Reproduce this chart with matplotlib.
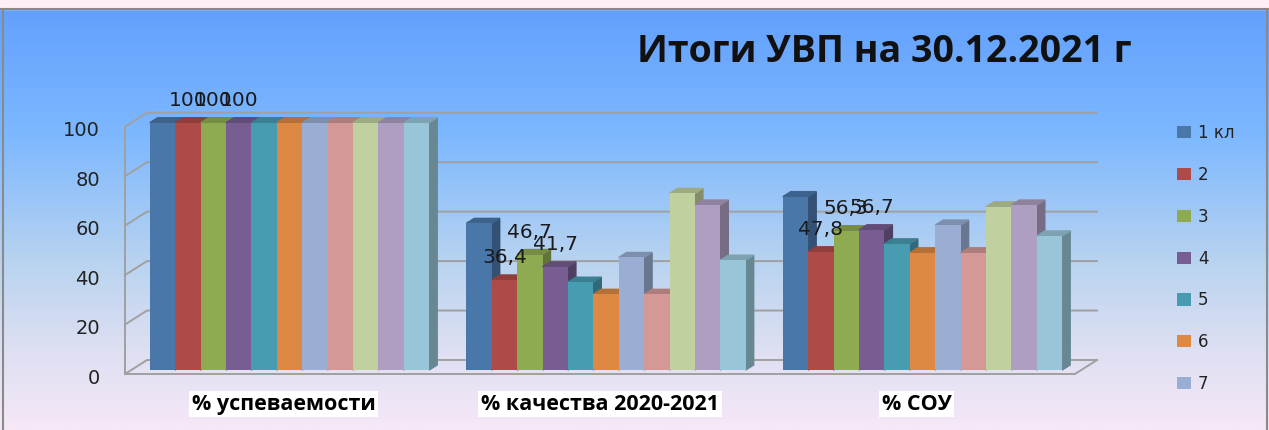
import matplotlib.pyplot as plt
import numpy as np
from matplotlib.colors import LinearSegmentedColormap, to_rgb
from matplotlib.patches import Polygon, Rectangle
from matplotlib.transforms import ScaledTranslation

title = "Итоги УВП на 30.12.2021 г"
categories = ["% успеваемости", "% качества 2020-2021", "% СОУ"]
series = ["1 кл", "2", "3", "4", "5", "6", "7", "8", "9", "10", "11"]
# one list per category, one value per class
uspev = [100, 100, 100, 100, 100, 100, 100, 100, 100, 100, 100]
kachestvo = [59.3, 36.4, 46.7, 41.7, 35.5, 30.6, 45.5, 30.6, 71.4, 66.7, 44.4]
sou = [70.1, 47.8, 56.3, 56.7, 51.0, 47.4, 58.6, 47.4, 66.0, 66.7, 54.2]
labelled = ["2", "3", "4"]   # series that carry value labels
yticks = [0, 20, 40, 60, 80, 100]

colors = ["#4a77aa", "#ae4b48", "#8fab52", "#775d92", "#479cb2", "#dd8943",
          "#9aaed3", "#d49896", "#c0d09e", "#ae9fc2", "#98c6d8"]

W, H = 1269, 430
fig = plt.figure(figsize=(W / 100, H / 100), dpi=100)

# background
bg = fig.add_axes([0, 0, 1, 1], zorder=-10)
bg.set_xlim(0, W)
bg.set_ylim(H, 0)
bg.axis("off")
cmap = LinearSegmentedColormap.from_list(
    "bg", [(0.0, "#62a0fd"), (0.3, "#7db8ff"), (0.6, "#b8d3f0"),
           (0.8, "#dcdff2"), (1.0, "#f6e8f7")])
bg.imshow(np.linspace(0, 1, 256).reshape(-1, 1), cmap=cmap, aspect="auto",
          extent=(0, W, H, 9), interpolation="bilinear")
bg.add_patch(Rectangle((0, 0), W, 9, color="#fdeef8"))
bg.plot([0, W], [8.5, 8.5], color="#8a8a8a", lw=1.5)
bg.plot([2.5, 2.5], [9, H], color="#8a8a8a", lw=1.5)
bg.plot([W - 2.5, W - 2.5], [9, H], color="#8a8a8a", lw=1.5)

# main axes: y 0..100 maps to the bar fronts
px_x = 316.5          # pixels per group
px_y = 2.473          # pixels per percent
ax = fig.add_axes([125 / W, (H - 370) / H, (1097 - 125) / W, (370 - 122.7) / H])
ax.set_xlim(-(289.5 - 125) / px_x, (1097 - 289.5) / px_x)
ax.set_ylim(0, 100)
ax.patch.set_visible(False)
for s in ax.spines.values():
    s.set_visible(False)

# walls and gridlines
xf = ax.get_xlim()[0]
xb = (147 - 289.5) / px_x
xr = ax.get_xlim()[1]
xfr = (1075 - 289.5) / px_x
yf = -4 / px_y
yb = 10 / px_y
gc = "#a0a0a0"
for v in yticks:
    ax.plot([xf, xb, xr], [v + yf, v + yb, v + yb], color=gc, lw=1.4,
            clip_on=False, zorder=1)
ax.plot([xf, xf], [yf, 100 + yf], color=gc, lw=1.4, clip_on=False, zorder=1)
ax.plot([xf, xfr, xr], [yf, yf, yb], color=gc, lw=1.4, clip_on=False, zorder=1)

# bars with a small 3D depth
data = np.array([uspev, kachestvo, sou])
bw = 25.4 / px_x
ddx = 8 / px_x
ddy = 5 / px_y
xg = np.arange(len(categories))
handles = []
for j, name in enumerate(series):
    z = 3 + j * 0.1
    x = xg + (j - 5) * bw
    bars = ax.bar(x, data[:, j], width=bw, color=colors[j], zorder=z + 0.05,
                  label=name)
    handles.append(bars)
    c = np.array(to_rgb(colors[j]))
    for r in bars:
        x0 = r.get_x()
        x1 = x0 + r.get_width()
        h = r.get_height()
        ax.add_patch(Polygon([(x1, 0), (x1 + ddx, ddy), (x1 + ddx, h + ddy), (x1, h)],
                             closed=True, color=c * 0.68, zorder=z, clip_on=False))
        ax.add_patch(Polygon([(x0, h), (x1, h), (x1 + ddx, h + ddy), (x0 + ddx, h + ddy)],
                             closed=True, color=c * 0.82, zorder=z, clip_on=False))
        if name in labelled:
            ax.annotate(f"{h:g}".replace(".", ","), (x0 + r.get_width() / 2, h),
                        xytext=(0, 16), textcoords="offset points",
                        ha="center", va="center", fontsize=14.5,
                        color="#1a1a1a", zorder=10, annotation_clip=False)

# y ticks on the front wall
ax.set_yticks(yticks)
ax.set_yticklabels([str(v) for v in yticks])
ax.tick_params(axis="y", length=0, pad=18, labelsize=14, labelcolor="#222222")
for lab in ax.get_yticklabels():
    lab.set_transform(lab.get_transform() + ScaledTranslation(0, -0.06, fig.dpi_scale_trans))

# category labels in white boxes
ax.set_xticks(xg)
ax.set_xticklabels(categories)
ax.tick_params(axis="x", length=0, pad=17)
for lab in ax.get_xticklabels():
    lab.set_fontfamily("Open Sans")
    lab.set_fontweight("bold")
    lab.set_fontsize(15.5)
    lab.set_bbox(dict(facecolor="white", edgecolor="none", pad=2))
    lab.set_transform(lab.get_transform() + ScaledTranslation(-0.06, 0, fig.dpi_scale_trans))

fig.text(884 / W, 1 - 52 / H, title, ha="center", va="center",
         fontfamily="Open Sans", fontweight="bold", fontsize=27, color="#111111")

fig.legend(handles[:7], series[:7], loc="upper left",
           bbox_to_anchor=(1177 / W, 1 - 124 / H), frameon=False,
           fontsize=12, labelspacing=1.43, handlelength=0.85, handleheight=0.75,
           handletextpad=0.4, borderpad=0, borderaxespad=0, labelcolor="#222222")

fig.savefig("out.png", dpi=100)
